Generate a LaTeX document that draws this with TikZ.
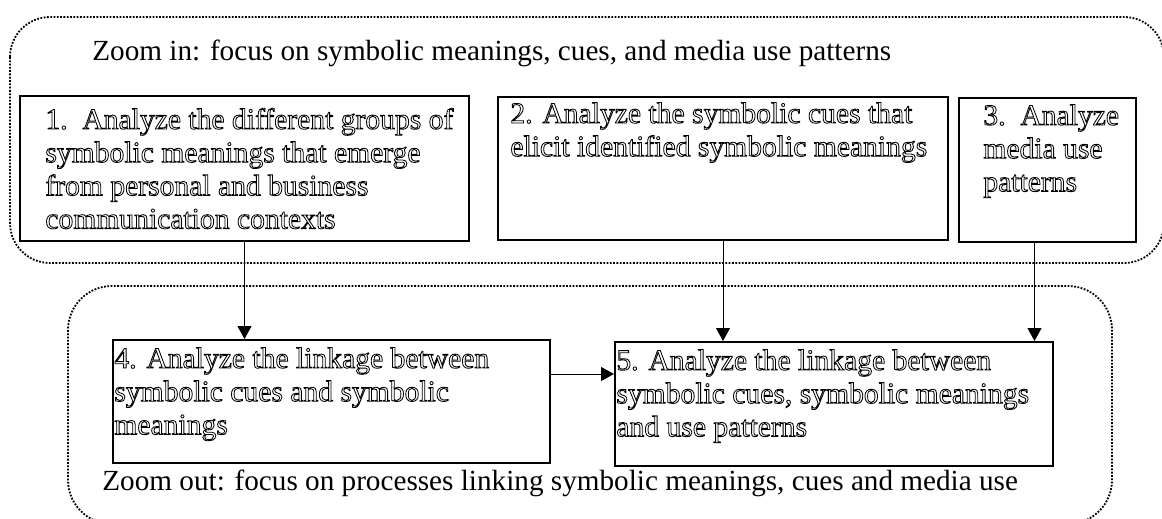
\documentclass[tikz,border=0pt]{standalone}
\usepackage{fontspec}
\setmainfont{Liberation Serif}
\usetikzlibrary{arrows.meta}
\tikzstyle{stepbox} = [draw, line width=1pt, rectangle, anchor=north west, inner sep=0pt]
\tikzstyle{steptext} = [anchor=base west, inner sep=0pt]
\tikzstyle{zone} = [line width=0.9pt, dash pattern=on 0.9pt off 0.75pt, rounded corners=20pt]
\tikzstyle{link} = [line width=0.5pt, -{Triangle[length=6.5pt,width=7pt]}]
% lines set from the first baseline, optionally drawn as outlines
\newcommand{\lines}[1]{\parbox[t]{560pt}{\raggedright #1}}
\newcommand{\hollow}[1]{{\fontsize{14.8}{16.6}\selectfont\special{pdf:literal direct 1 Tr 0.42 w}#1\special{pdf:literal direct 0 Tr}}}

\begin{document}
\begin{tikzpicture}[x=0.5pt,y=-0.5pt,font=\fontsize{14.6}{16.5}\selectfont]
\useasboundingbox (0,0) rectangle (1162,519);
\clip (0,0) rectangle (1162,519);

% the two zones
\draw[zone] (10,17) rectangle (1164,263);
\draw[zone, rounded corners=22pt] (68,286) rectangle (1112,524);
\node[steptext] (zin) at (92,61) {Zoom in: focus on symbolic meanings, cues, and media use patterns};
\begin{scope}
\clip (0,0) rectangle (1162,510); % text frame cuts the last line
\node[steptext] (zout) at (102,490) {\lines{Zoom out: focus on processes linking symbolic meanings, cues and media use\\[3.5pt]patterns}};
\end{scope}

% step boxes
\node[stepbox, minimum width=224.5pt, minimum height=72.5pt] (b1) at (19,95) {};
\node[stepbox, minimum width=225pt, minimum height=71.5pt] (b2) at (497,96) {};
\node[stepbox, minimum width=88.5pt, minimum height=72pt] (b3) at (958,97) {};
\node[stepbox, minimum width=218.5pt, minimum height=61.5pt] (b4) at (112,339) {};
\node[stepbox, minimum width=219pt, minimum height=62pt] (b5) at (614,341) {};

\node[steptext] (t1) at (45,129) {\hollow{\lines{1.\ \ Analyze the different groups of\\symbolic meanings that emerge\\from personal and business\\communication contexts}}};
\node[steptext] (t2) at (510,123) {\hollow{\lines{2. Analyze the symbolic cues that\\elicit identified symbolic meanings}}};
\node[steptext] (t3) at (983,125) {\hollow{\lines{3.\ \ Analyze\\media use\\patterns}}};
\node[steptext] (t4) at (114,368) {\hollow{\lines{4. Analyze the linkage between\\symbolic cues and symbolic\\meanings}}};
\node[steptext] (t5) at (616,370) {\hollow{\lines{5. Analyze the linkage between\\symbolic cues, symbolic meanings\\and use patterns}}};

% links
\draw[link] (b1.south) -- (b1.south |- b4.north);
\draw[link] (b2.south) -- (b2.south |- b5.north);
\draw[link] ([xshift=-6.5pt]b3.south) -- ([xshift=-6.5pt]b3.south |- b5.north);
\draw[link] ([yshift=13.75pt]b4.east) -- ([yshift=13.75pt]b4.east -| b5.west);
\end{tikzpicture}
\end{document}
